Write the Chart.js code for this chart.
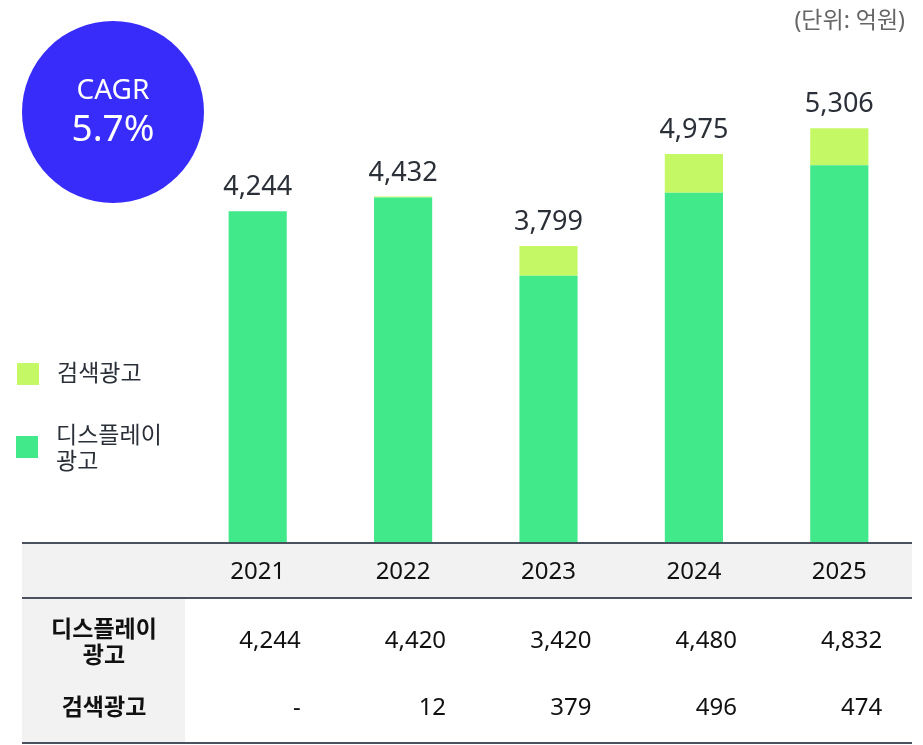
<!DOCTYPE html>
<html>
<head>
<meta charset="utf-8">
<script src="https://cdn.jsdelivr.net/npm/chart.js@4"></script>
<style>
  html, body { margin: 0; padding: 0; background: #fff; }
  #wrap { width: 923px; height: 745px; position: relative; }
</style>
</head>
<body>
<div id="wrap"><canvas id="adChart" width="923" height="745"></canvas></div>
<script>
const FONT = '"Noto Sans", "Noto Sans CJK KR", sans-serif';

// data
const years = ['2021', '2022', '2023', '2024', '2025'];
const displayAds = [4244, 4420, 3420, 4480, 4832];
const searchAds = [0, 12, 379, 496, 474];
const totals = [4244, 4432, 3799, 4975, 5306];
const searchText = ['-', '12', '379', '496', '474'];
const cagrText = '5.7%';

const GREEN = 'rgb(66, 233, 138)';
const LIME = 'rgb(196, 248, 101)';

function fmt(n) {
  return n.toLocaleString('en-US');
}

// extra drawing: circle, unit, legend, totals, table
const decor = {
  id: 'decor',
  afterDatasetsDraw(chart) {
    const c = chart.ctx;
    const x = chart.scales.x;
    const y = chart.scales.y;
    c.save();

    // CAGR bubble
    c.fillStyle = 'rgb(56, 44, 250)';
    c.beginPath();
    c.arc(113, 112, 91, 0, Math.PI * 2);
    c.fill();
    c.fillStyle = '#fff';
    c.textAlign = 'center';
    c.textBaseline = 'middle';
    c.font = '28px ' + FONT;
    c.fillText('CAGR', 113, 91);
    c.font = '37px ' + FONT;
    c.fillText(cagrText, 113, 130);

    // unit
    c.fillStyle = '#666';
    c.textAlign = 'right';
    c.font = '23px ' + FONT;
    c.fillText('(단위: 억원)', 905, 21);

    // legend
    c.fillStyle = LIME;
    c.fillRect(17, 363, 22, 22);
    c.fillStyle = GREEN;
    c.fillRect(16, 436, 22, 22);
    c.fillStyle = '#2b3038';
    c.textAlign = 'left';
    c.font = '23px ' + FONT;
    c.fillText('검색광고', 57, 374);
    c.fillText('디스플레이', 56, 436);
    c.fillText('광고', 56, 462);

    // totals above bars
    c.textAlign = 'center';
    c.textBaseline = 'alphabetic';
    c.font = '27px ' + FONT;
    c.fillStyle = '#2b3038';
    totals.forEach((t, i) => {
      c.fillText(fmt(t), x.getPixelForValue(i), y.getPixelForValue(t) - 16);
    });

    // table
    const top = y.getPixelForValue(0);
    const left = 22, right = 912, colL = 185;
    c.fillStyle = '#f2f2f2';
    c.fillRect(left, top, right - left, 55);
    c.fillRect(left, top + 55, colL - left, 145);
    c.strokeStyle = '#4a5260';
    c.lineWidth = 2;
    [top, top + 55, top + 200].forEach(ly => {
      c.beginPath();
      c.moveTo(left, ly);
      c.lineTo(right, ly);
      c.stroke();
    });

    c.fillStyle = '#111';
    c.textBaseline = 'middle';
    c.textAlign = 'center';
    c.font = '24px ' + FONT;
    years.forEach((yr, i) => c.fillText(yr, x.getPixelForValue(i), top + 29));

    c.font = '600 23px ' + FONT;
    c.fillText('디스플레이', 104, top + 87);
    c.fillText('광고', 104, top + 113);
    c.fillText('검색광고', 104, top + 165);

    c.font = '24px ' + FONT;
    c.textAlign = 'right';
    displayAds.forEach((v, i) => c.fillText(fmt(v), x.getPixelForValue(i) + 43, top + 98));
    searchText.forEach((s, i) => c.fillText(s, x.getPixelForValue(i) + 43, top + 165));

    c.restore();
  }
};

new Chart(document.getElementById('adChart'), {
  type: 'bar',
  data: {
    labels: years,
    datasets: [
      { label: '디스플레이 광고', data: displayAds, backgroundColor: GREEN },
      { label: '검색광고', data: searchAds, backgroundColor: LIME }
    ]
  },
  options: {
    responsive: false,
    animation: false,
    layout: { padding: { left: 185, right: 11, top: 74, bottom: 202 } },
    datasets: { bar: { categoryPercentage: 1, barPercentage: 0.4 } },
    scales: {
      x: { stacked: true, display: false },
      y: { stacked: true, display: false, min: 0, max: 6000 }
    },
    plugins: {
      legend: { display: false },
      tooltip: { enabled: false }
    }
  },
  plugins: [decor]
});
</script>
</body>
</html>
